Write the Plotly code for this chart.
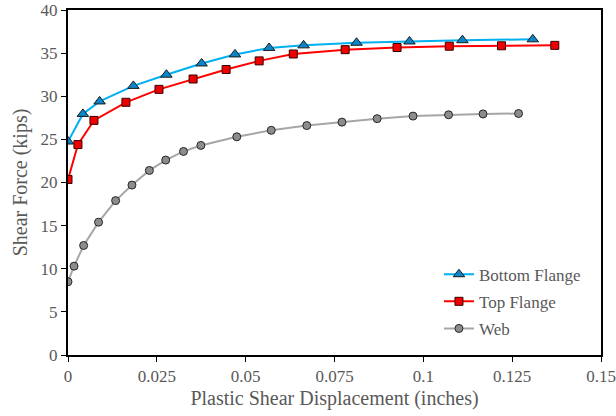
import plotly.graph_objects as go

bottom_x = [0, 0.0042, 0.0089, 0.0184, 0.0277, 0.0376, 0.0470, 0.0566, 0.0663, 0.0812, 0.0961, 0.1110, 0.1308]
bottom_y = [24.75, 27.95, 29.4, 31.2, 32.5, 33.8, 34.85, 35.6, 35.9, 36.2, 36.35, 36.5, 36.6]

top_x = [0, 0.0028, 0.0073, 0.0163, 0.0256, 0.0352, 0.0445, 0.0538, 0.0634, 0.0780, 0.0926, 0.1073, 0.1220, 0.1370]
top_y = [20.35, 24.4, 27.2, 29.3, 30.8, 32.0, 33.1, 34.1, 34.9, 35.4, 35.65, 35.8, 35.85, 35.9]

web_x = [0, 0.0017, 0.0044, 0.0086, 0.0134, 0.0180, 0.0229, 0.0275, 0.0325, 0.0374, 0.0475,
         0.0572, 0.0672, 0.0771, 0.0870, 0.0971, 0.1071, 0.1168, 0.1268]
web_y = [8.5, 10.3, 12.7, 15.4, 17.9, 19.7, 21.4, 22.6, 23.6, 24.3, 25.3, 26.05, 26.6, 27.0,
         27.4, 27.7, 27.85, 27.95, 28.0]

x_ticks = [0, 0.025, 0.05, 0.075, 0.1, 0.125, 0.15]
x_labels = ["0", "0.025", "0.05", "0.075", "0.1", "0.125", "0.15"]
y_ticks = [0, 5, 10, 15, 20, 25, 30, 35, 40]

font_family = "Liberation Serif"
grey = "#595959"

fig = go.Figure()
fig.add_trace(go.Scatter(
    x=bottom_x, y=bottom_y, name="Bottom Flange", mode="lines+markers", legendgroup="b",
    line=dict(color="#00B0F0", width=2),
    marker=dict(symbol="triangle-up", size=10, color="#0A86C8", line=dict(color="#1a1a1a", width=1)),
))
fig.add_trace(go.Scatter(
    x=top_x, y=top_y, name="Top Flange", mode="lines+markers", legendgroup="t",
    line=dict(color="#FF0000", width=2),
    marker=dict(symbol="square", size=8, color="#EE0000", line=dict(color="#3a0000", width=1)),
))
fig.add_trace(go.Scatter(
    x=web_x, y=web_y, name="Web", mode="lines+markers", legendgroup="w",
    line=dict(color="#A6A6A6", width=2),
    marker=dict(symbol="circle", size=8, color="#8C8C8C", line=dict(color="#262626", width=1)),
))

fig.update_layout(
    width=616, height=416,
    margin=dict(l=68, r=15, t=10, b=61),
    paper_bgcolor="white", plot_bgcolor="white",
    font=dict(family=font_family, color=grey, size=17),
    showlegend=True,
    legend=dict(
        x=0.696, y=0.285, xanchor="left", yanchor="top",
        bgcolor="rgba(0,0,0,0)", font=dict(size=17, color=grey, family=font_family),
        tracegroupgap=2, itemwidth=30,
    ),
)
fig.update_xaxes(
    range=[0, 0.15], tickvals=x_ticks, ticktext=x_labels, automargin=False,
    showgrid=False, zeroline=False,
    showline=True, linecolor="black", linewidth=2, mirror=True,
    ticks="outside", ticklen=5, tickcolor="black", tickwidth=1,
    tickfont=dict(size=17, color=grey, family=font_family),
    title=dict(text="Plastic Shear Displacement (inches)", font=dict(size=20, color=grey, family=font_family), standoff=6),
)
fig.update_yaxes(
    range=[0, 40], tickvals=y_ticks, automargin=False,
    showgrid=False, zeroline=False,
    showline=True, linecolor="black", linewidth=2, mirror=True,
    ticks="outside", ticklen=5, tickcolor="black", tickwidth=1,
    tickfont=dict(size=17, color=grey, family=font_family),
    title=dict(text="Shear Force (kips)", font=dict(size=20, color=grey, family=font_family), standoff=8),
)

fig.write_html("out.html")
